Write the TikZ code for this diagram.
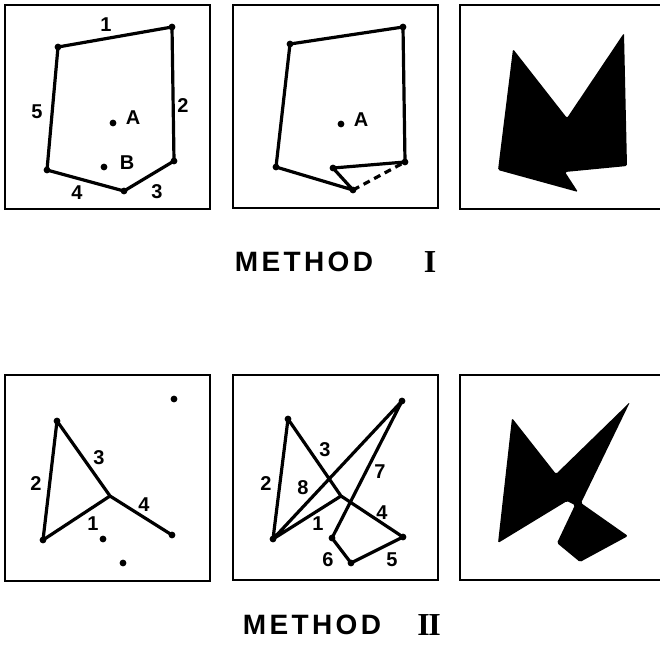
\documentclass[tikz,border=0pt]{standalone}
\usepackage{fontspec}
\setmainfont{Liberation Sans}
\newfontfamily\romfont{Liberation Serif}
\newfontfamily\titlefont[LetterSpace=12]{Liberation Sans}

\begin{document}
\begin{tikzpicture}[x=1pt, y=-1pt,
    panel/.style={line width=2.8pt},
    edge/.style={line width=3.2pt, line cap=round, line join=round},
    num/.style={font=\fontsize{20}{20}\selectfont\bfseries, inner sep=0pt},
    title/.style={font=\titlefont\fontsize{28}{28}\selectfont\bfseries, inner sep=0pt},
    roman/.style={font=\romfont\fontsize{32}{32}\selectfont\bfseries, inner sep=0pt},
    blot/.style={fill=black, rounded corners=1.5pt}]
\useasboundingbox (0,0) rectangle (660,646);

% Frames
\draw[panel] (5,5) rectangle (210,209);
\draw[panel] (233,5) rectangle (438,208);
\draw[panel] (665,5) -| (460,209) -- (665,209);
\draw[panel] (5,375) rectangle (210,581);
\draw[panel] (233,375) rectangle (438,580);
\draw[panel] (665,375) -| (460,580) -- (665,580);

% Method I, outline
\coordinate (p1) at (58,47);
\coordinate (p2) at (172,27);
\coordinate (p3) at (174,161);
\coordinate (p4) at (124,191);
\coordinate (p5) at (47,170);
\coordinate (ptA) at (113,123);
\coordinate (ptB) at (104,167);
\draw[edge] (p1) -- (p2) -- (p3) -- (p4) -- (p5) -- cycle;
\foreach \p in {p1,p2,p3,p4,p5,ptA,ptB} \fill (\p) circle (3.4pt);
\node[num] (e1) at (106,25) {1};
\node[num] (e2) at (183,106) {2};
\node[num] (e3) at (157,192) {3};
\node[num] (e4) at (77,193) {4};
\node[num] (e5) at (37,112) {5};
\node[num] (labA) at (133,118) {A};
\node[num] (labB) at (127,163) {B};

% Method I, point B taken in
\coordinate (q1) at (290,44);
\coordinate (q2) at (403,27);
\coordinate (q3) at (405,162);
\coordinate (q4) at (333,168);
\coordinate (q5) at (353,190);
\coordinate (q6) at (276,167);
\coordinate (qA) at (341,124);
\draw[edge] (q5) -- (q6) -- (q1) -- (q2) -- (q3) -- (q4) -- (q5);
\draw[edge, line cap=butt, dash pattern=on 7pt off 5pt] (q5) -- (q3);
\foreach \p in {q1,q2,q3,q4,q5,q6,qA} \fill (\p) circle (3.4pt);
\node[num] (labA2) at (361,120) {A};

% Method I, filled
\fill[blot] (513,49) -- (567,118) -- (624,33) -- (627,166) -- (565,172)
    -- (578,192) -- (498,170) -- cycle;

\node[title] (meth1) at (304,262) {METHOD};
\node[roman] (num1) at (430,262) {I};

% Method II, first edges
\coordinate (r1) at (57,421);
\coordinate (r2) at (43,540);
\coordinate (r3) at (110,496);
\coordinate (r4) at (172,535);
\coordinate (r5) at (174,399);
\coordinate (r6) at (103,539);
\coordinate (r7) at (123,563);
\draw[edge] (r2) -- (r1) -- (r3) -- (r4);
\draw[edge] (r2) -- (r3);
\foreach \p in {r1,r2,r4,r5,r6,r7} \fill (\p) circle (3.4pt);
\node[num] (f1) at (93,524) {1};
\node[num] (f2) at (36,484) {2};
\node[num] (f3) at (99,458) {3};
\node[num] (f4) at (144,505) {4};

% Method II, all edges
\coordinate (s1) at (288,419);
\coordinate (s2) at (402,401);
\coordinate (s3) at (273,539);
\coordinate (s4) at (341,496);
\coordinate (s5) at (403,537);
\coordinate (s6) at (332,538);
\coordinate (s7) at (351,563);
\draw[edge] (s3) -- (s1) -- (s4) -- (s5) -- (s7) -- (s6) -- (s2) -- (s3) -- (s4);
\foreach \p in {s1,s2,s3,s5,s6,s7} \fill (\p) circle (3.4pt);
\node[num] (g1) at (318,524) {1};
\node[num] (g2) at (266,484) {2};
\node[num] (g3) at (325,450) {3};
\node[num] (g4) at (382,513) {4};
\node[num] (g5) at (392,560) {5};
\node[num] (g6) at (328,560) {6};
\node[num] (g7) at (380,472) {7};
\node[num] (g8) at (303,488) {8};

% Method II, filled
\fill[blot] (512,418) -- (556,474) -- (630,402) -- (581,503) -- (628,536)
    -- (580,562) -- (557,543) -- (575,505) -- (567,501) -- (498,543) -- cycle;

\node[title] (meth2) at (312,625) {METHOD};
\node[roman] (num2) at (429,625) {I\kern-1.5pt I};
\end{tikzpicture}
\end{document}
